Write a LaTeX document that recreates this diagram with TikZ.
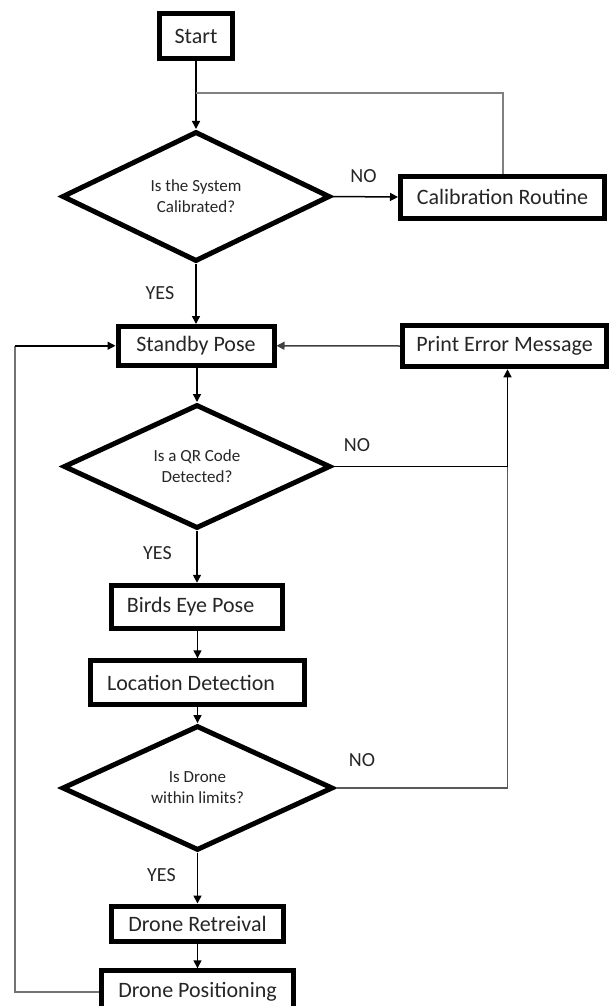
\documentclass[tikz,border=0pt]{standalone}
\usepackage{fontspec}
\setmainfont{Carlito}
\usetikzlibrary{shapes.geometric,arrows.meta}
\begin{document}
\begin{tikzpicture}[x=1pt,y=-1pt,
  box/.style={draw=black, line width=5pt, rectangle, inner sep=0pt,
    font=\fontsize{22}{26}\selectfont, text=black!85},
  dec/.style={draw=black, line width=5pt, diamond, inner sep=0pt, align=center,
    font=\fontsize{17}{21}\selectfont, text=black!85},
  lbl/.style={font=\fontsize{20}{24}\selectfont, text=black!85, inner sep=0pt},
  conn/.style={line width=1.5pt, draw=black, -{Triangle[length=8pt,width=8pt]}},
  plain/.style={line width=1.5pt, draw=black},
  grayline/.style={line width=2pt, draw=black!50},
  grayplain/.style={line width=1.8pt, draw=black!55}
]
\clip (0,0) rectangle (609,1006);
\fill[white] (0,0) rectangle (609,1006);

% nodes
\node[box, minimum width=73pt, minimum height=45pt] (start) at (196,36.5) {Start};
\node[dec, minimum width=268pt, minimum height=130pt] (d1) at (196,196.5) {Is the System\\Calibrated?};
\node[box, minimum width=204pt, minimum height=42pt] (calib) at (502.5,197) {Calibration Routine};
\node[box, minimum width=156pt, minimum height=38.5pt] (standby) at (196,345.75) {Standby Pose};
\node[box, minimum width=204pt, minimum height=41.6pt] (printerr) at (504.5,346) {Print Error Message};
\node[dec, minimum width=267pt, minimum height=124pt] (d2) at (197,466.5) {Is a QR Code\\Detected?};
\node[box, minimum width=171.7pt, minimum height=43.3pt] (birds) at (197,606.9) {Birds Eye Pose\hspace*{13pt}};
\node[box, minimum width=213.4pt, minimum height=43.4pt] (loc) at (197.5,682.5) {Location Detection\hspace*{13pt}};
\node[dec, minimum width=271pt, minimum height=115pt] (d3) at (197.5,788) {Is Drone\\within limits?};
\node[box, minimum width=172.7pt, minimum height=35pt] (retr) at (197.5,923.5) {Drone Retreival};
\node[box, minimum width=192.7pt, minimum height=42.4pt] (pos) at (197.5,992) {Drone Positioning};

% labels
\node[lbl] (no1) at (363.5,176) {NO};
\node[lbl] (yes1) at (160,293) {YES};
\node[lbl] (no2) at (357,445) {NO};
\node[lbl] (yes2) at (157.5,553) {YES};
\node[lbl] (no3) at (362,760) {NO};
\node[lbl] (yes3) at (161.5,875) {YES};

% helper coordinates
\coordinate (j1) at (196,93);
\coordinate (j2) at (507.5,466.5);
\coordinate (j3) at (507.5,788);
\coordinate (j4) at (15,992);
\coordinate (j5) at (15,345.75);

% connectors
\draw[conn] (start.south) -- (d1.north);
\draw[grayline] (calib.north) |- (j1);
\draw[conn] (d1.east) -- (calib.west);
\draw[conn] (d1.south) -- (standby.north);
\draw[conn, draw=black!75] (printerr.west) -- (standby.east);
\draw[conn] (d2.north |- standby.south) -- (d2.north);
\draw[plain] (d2.east) -- (j2);
\draw[conn] (j2) -- (j2 |- printerr.south);
\draw[conn] (d2.south) -- (birds.north -| d2.south);
\draw[conn] (birds.south -| loc.north) -- (loc.north);
\draw[conn] (loc.south) -- (d3.north);
\draw[line width=1.8pt, draw=black!65] (d3.east) -- (j3) -- (j2);
\draw[conn] (d3.south) -- (retr.north -| d3.south);
\draw[conn] (retr.south -| pos.north) -- (pos.north);
\draw[grayplain] (pos.west) -- (j4) -- (j5);
\draw[conn] (j5) -- (standby.west);
\end{tikzpicture}
\end{document}
